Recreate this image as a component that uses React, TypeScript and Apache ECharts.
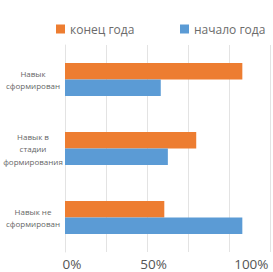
import React, { useEffect, useRef } from "react";
import * as echarts from "echarts";

const categories = ["Навык\nсформирован", "Навык в\nстадии\nформирования", "Навык не\nсформирован"];
const seriesNames = ["конец года", "начало года"];
const endOfYear = [100, 74, 56];
const startOfYear = [54, 58, 100];
const tickLabels = ["0%", "50%", "100%"];

const GRID_STEP = 23.12;
const AXIS_MAX = GRID_STEP * 5;

export default function App() {
  const ref = useRef<HTMLDivElement>(null);
  useEffect(() => {
    if (!ref.current) return;
    const chart = echarts.init(ref.current, null, { renderer: "svg" });
    const font = "'Open Sans', sans-serif";
    const legendText = { fontSize: 12, color: "#6b6b6b", fontFamily: font };
    const labelStyle = { fontSize: 13.5, color: "#555555", fontFamily: font };
    chart.setOption({
      animation: false,
      backgroundColor: "#ffffff",
      legend: [
        {
          data: [seriesNames[0]],
          left: 51,
          top: 18,
          icon: "rect",
          itemWidth: 9,
          itemHeight: 9,
          itemGap: 4,
          textStyle: legendText,
        },
        {
          data: [seriesNames[1]],
          left: 175,
          top: 18,
          icon: "rect",
          itemWidth: 9,
          itemHeight: 9,
          textStyle: legendText,
        },
      ],
      grid: { left: 65, right: 0, top: 45, height: 207 },
      xAxis: [
        {
          type: "value",
          min: 0,
          max: AXIS_MAX,
          interval: GRID_STEP,
          position: "bottom",
          axisLine: { show: false },
          axisTick: { show: false },
          axisLabel: { show: false },
          splitLine: { show: true, lineStyle: { color: "#e3e3e3", width: 1 } },
        },
        {
          type: "value",
          min: 0,
          max: AXIS_MAX,
          interval: 50,
          position: "bottom",
          axisLine: { show: false },
          axisTick: { show: false },
          splitLine: { show: false },
          axisLabel: {
            show: true,
            margin: 5,
            ...labelStyle,
            formatter: (v: number) => {
              const i = Math.round(v / 50);
              if (Math.abs(v - i * 50) < 0.01 && i < tickLabels.length) return `{t${i}|${tickLabels[i]}}`;
              return "";
            },
            rich: {
              t0: { ...labelStyle, padding: [0, 0, 0, 14] },
              t1: { ...labelStyle, padding: [0, 0, 0, 0] },
              t2: { ...labelStyle, padding: [0, 0, 0, 18] },
            },
          },
        },
      ],
      yAxis: {
        type: "category",
        data: categories,
        inverse: true,
        axisLine: { show: true, lineStyle: { color: "#e3e3e3" } },
        axisTick: { show: false },
        axisLabel: {
          fontSize: 8,
          lineHeight: 12.5,
          color: "#666666",
          fontFamily: font,
          align: "center",
          margin: 32,
        },
      },
      series: [
        {
          name: seriesNames[0],
          type: "bar",
          xAxisIndex: 0,
          data: endOfYear,
          barWidth: 16.5,
          barGap: "0%",
          itemStyle: { color: "#ED7D31" },
        },
        {
          name: seriesNames[1],
          type: "bar",
          xAxisIndex: 0,
          data: startOfYear,
          barWidth: 16.5,
          barGap: "0%",
          itemStyle: { color: "#5B9BD5" },
        },
      ],
    });
    return () => chart.dispose();
  }, []);
  return (
    <div
      ref={ref}
      style={{ position: "absolute", left: 0, top: 0, width: 273, height: 272 }}
    />
  );
}
